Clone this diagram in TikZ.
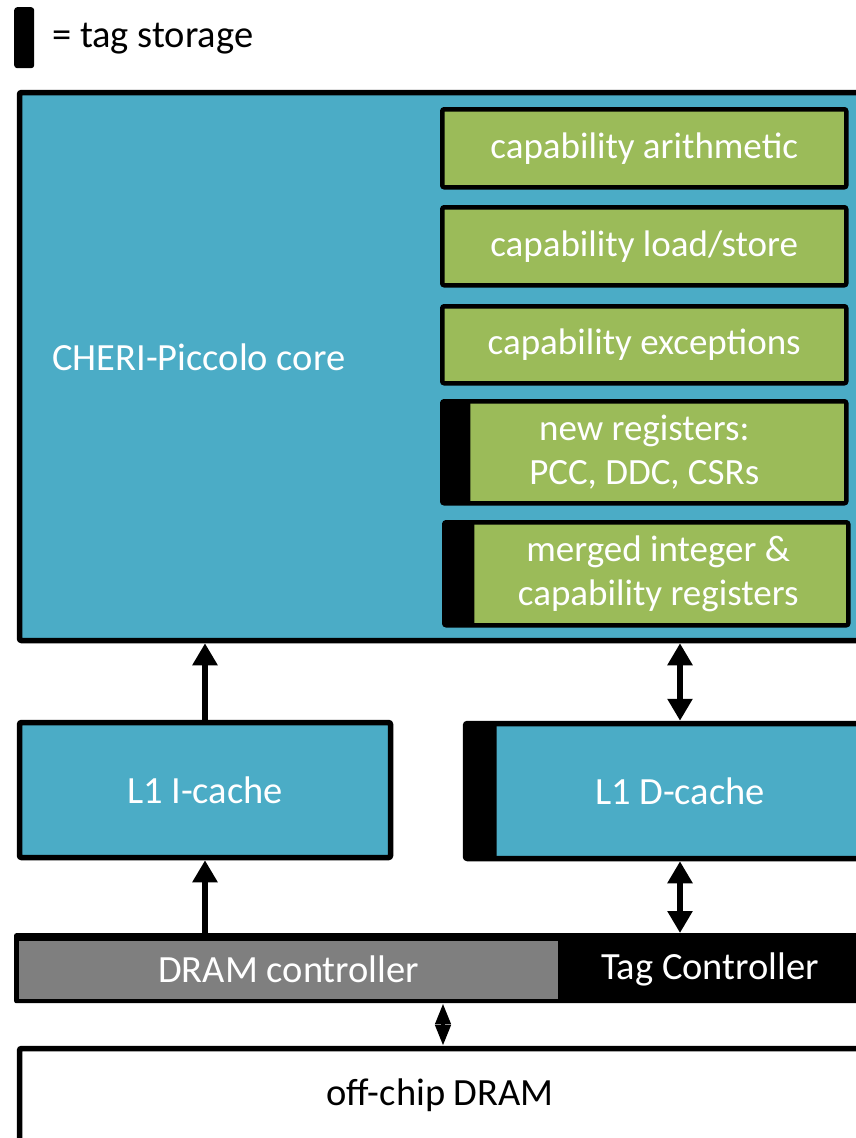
\documentclass[tikz,border=0pt]{standalone}
\usepackage{fontspec}
\setmainfont{Carlito}
\usetikzlibrary{arrows.meta}
\definecolor{coreblue}{HTML}{4BACC6}
\definecolor{unitgreen}{HTML}{9BBB59}
\definecolor{ctrlgray}{HTML}{7F7F7F}
\tikzset{
  bluebox/.style={draw=black, line width=5.5pt, fill=coreblue, rounded corners=2pt, anchor=north west, inner sep=0pt, text=white},
  greenbox/.style={draw=black, line width=4.5pt, fill=unitgreen, rounded corners=2pt, anchor=north west, inner sep=0pt, text=white, align=center, minimum width=404pt, font=\fontsize{37}{44}\selectfont},
  tagbar/.style={path picture={\fill[black] (path picture bounding box.north west) rectangle ([xshift=#1]path picture bounding box.south west);}},
  lbl/.style={font=\fontsize{38.5}{44}\selectfont},
  arr/.style={line width=6.5pt, -{Triangle[length=22pt,width=24pt]}},
  darr/.style={line width=6.5pt, {Triangle[length=22pt,width=24pt]}-{Triangle[length=22pt,width=24pt]}},
  diarr/.style={line width=4.5pt, {Triangle[length=21pt,width=15pt]}-{Triangle[length=21pt,width=15pt]}}
}
\begin{document}
\begin{tikzpicture}[x=1pt,y=-1pt]
\useasboundingbox (0,0) rectangle (856,1138);
\clip (0,0) rectangle (856,1138);
% legend
\node[fill=black, rounded corners=3pt, minimum width=20pt, minimum height=61pt, inner sep=0pt, anchor=north west] (legbar) at (14,7) {};
\node[lbl, anchor=west, inner sep=0pt] (legtext) at (52,39) {= tag storage};
% core
\node[bluebox, minimum width=860pt, minimum height=548pt] (core) at (16.75,89.75) {};
\node[lbl, text=white, anchor=west, inner sep=0pt] (corelabel) at (52,357) {CHERI-Piccolo core};
% units
\node[greenbox, minimum height=78pt] (arith) at (440,107) {capability arithmetic};
\node[greenbox, minimum height=78pt] (ldst) at (440,205) {capability load/store};
\node[greenbox, minimum height=77pt] (exc) at (440,304) {capability exceptions};
\node[greenbox, minimum height=102pt, tagbar=28pt] (newreg) at (440,399) {new registers:\\PCC, DDC, CSRs};
\node[greenbox, minimum height=103pt, tagbar=30pt] (merged) at (442,520) {\hspace*{24pt}merged integer \&\\\hspace*{24pt}capability registers};
% caches
\node[bluebox, lbl, minimum width=371pt, minimum height=135pt] (icache) at (16.75,719.75) {L1 I-cache};
\node[bluebox, lbl, minimum width=429pt, minimum height=135pt, tagbar=31pt] (dcache) at (462.75,720.75) {L1 D-cache};
% controller
\node[fill=black, minimum width=870pt, minimum height=70pt, inner sep=0pt, anchor=north west, rounded corners=2pt] (ctrl) at (14,933) {};
\node[lbl, fill=ctrlgray, minimum width=539pt, minimum height=58pt, inner sep=0pt, anchor=north west, text=white] (dramc) at (19,940.5) {DRAM controller};
\node[lbl, text=white, inner sep=0pt] (tagc) at (710,969) {Tag Controller};
% DRAM
\node[draw=black, line width=5.5pt, fill=white, anchor=north west, minimum width=847pt, minimum height=200pt, inner sep=0pt, rounded corners=2pt] (dram) at (16.75,1045.75) {};
\node[lbl, inner sep=0pt] (dramlabel) at (440,1095) {off-chip DRAM};
% connectors
\draw[arr] (icache.north) -- (icache.north |- core.south);
\draw[darr] (dcache.north) -- (dcache.north |- core.south);
\draw[arr] (icache.south |- ctrl.north) -- (icache.south);
\draw[darr] (dcache.south |- ctrl.north) -- (dcache.south);
\draw[diarr] (dram.north |- ctrl.south) -- (dram.north);
\end{tikzpicture}
\end{document}
